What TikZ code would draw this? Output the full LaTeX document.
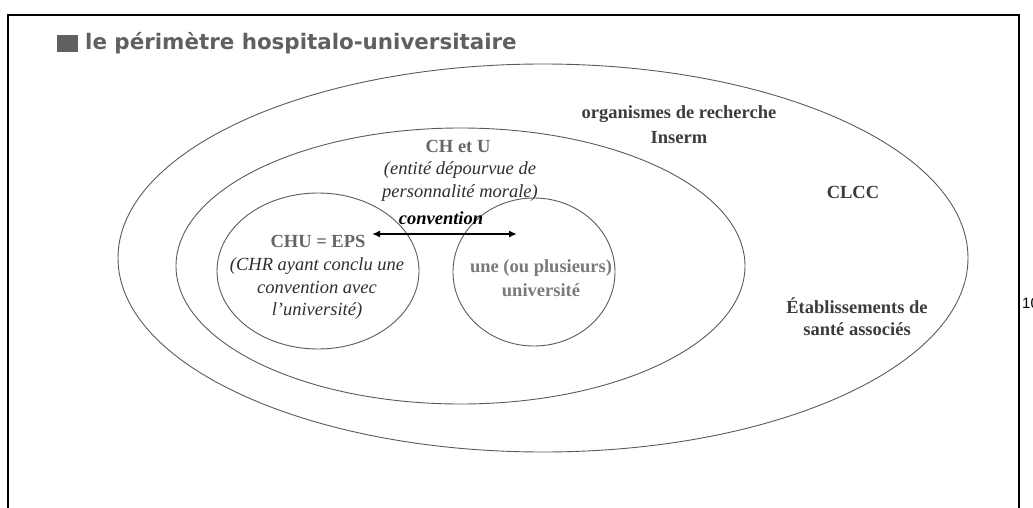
\documentclass[tikz,border=0pt]{standalone}
\usepackage{fontspec}
\setmainfont{Liberation Serif}
\newfontfamily\titlefont{DejaVu Sans}
\newfontfamily\numfont{Liberation Sans}
\usetikzlibrary{shapes.geometric,arrows.meta}

\definecolor{ringgray}{HTML}{5A5A5A}
\definecolor{titlegray}{HTML}{606060}
\definecolor{darktext}{HTML}{3C3C3C}
\definecolor{midtext}{HTML}{666666}
\definecolor{lighttext}{HTML}{7A7A7A}
\definecolor{italtext}{HTML}{2E2E2E}

\tikzset{
  ring/.style={ellipse, draw=ringgray, line width=0.9pt, inner sep=0pt},
  lbl/.style={anchor=base, inner sep=0pt, font=\fontsize{18.5}{22}\selectfont},
  bolddark/.style={lbl, text=darktext, font=\fontsize{18.5}{22}\selectfont\bfseries},
  boldmid/.style={lbl, text=midtext, font=\fontsize{18.5}{22}\selectfont\bfseries},
  boldlight/.style={lbl, text=lighttext, font=\fontsize{18.5}{22}\selectfont\bfseries},
  ital/.style={lbl, text=italtext, font=\fontsize{18.5}{22}\selectfont\itshape},
}

\begin{document}
\begin{tikzpicture}[x=1pt,y=-1pt]
\useasboundingbox (0,0) rectangle (1033,508);
\clip (0,0) rectangle (1033,508);

% slide frame
\coordinate (fbl) at (8,520);
\coordinate (ftl) at (8,15);
\coordinate (ftr) at (1019,15);
\coordinate (fbr) at (1019,520);
\draw[line width=2pt] (fbl) -- (ftl) -- (ftr) -- (fbr);

% page number, cut by the page edge
\node[anchor=base west, inner sep=0pt, font=\numfont\fontsize{15}{18}\selectfont] (pagenum) at (1022,308) {10};

% heading
\node[fill=titlegray, minimum width=21pt, minimum height=17pt, inner sep=0pt, anchor=north west] (bullet) at (57,35) {};
\node[anchor=base west, inner sep=0pt, text=titlegray, font=\titlefont\bfseries\fontsize{21.4}{24}\selectfont] (title) at (85,50) {le périmètre hospitalo-universitaire};

% nested perimeters
\node[ring, minimum width=850pt, minimum height=388pt] (outer) at (543,258) {};
\node[ring, minimum width=569pt, minimum height=276pt] (chetu) at (460.5,266) {};
\node[ring, minimum width=202pt, minimum height=156pt] (chu) at (318,271) {};
\node[ring, minimum width=162pt, minimum height=148pt] (univ) at (534,272) {};

% outer ring labels
\node[bolddark] (org1) at (679,119) {organismes de recherche};
\node[bolddark] (org2) at (679,143) {Inserm};
\node[bolddark] (clcc) at (853,198) {CLCC};
\node[bolddark] (etab1) at (857,313) {Établissements de};
\node[bolddark] (etab2) at (857,335) {santé associés};

% CH et U
\node[boldmid] (chetuT) at (458,153) {CH et U};
\node[ital] (ent1) at (460,175) {(entité dépourvue de};
\node[ital] (ent2) at (460,197) {personnalité morale)};

% convention link
\node[lbl, text=black, font=\fontsize{18.5}{22}\selectfont\bfseries\itshape] (conv) at (441,224) {convention};
\coordinate (arrL) at (372,234);
\coordinate (arrR) at (517,234);
\draw[line width=2pt, {Latex[length=8pt,width=7pt]}-{Latex[length=8pt,width=7pt]}] (arrL) -- (arrR);

% CHU
\node[boldmid] (chuT) at (318,247) {CHU = EPS};
\node[ital] (chr1) at (317,270) {(CHR ayant conclu une};
\node[ital] (chr2) at (317,293) {convention avec};
\node[ital] (chr3) at (317,315) {l’université)};

% university
\node[boldlight] (univ1) at (541,272) {une (ou plusieurs)};
\node[boldlight] (univ2) at (541,296) {université};
\end{tikzpicture}
\end{document}
